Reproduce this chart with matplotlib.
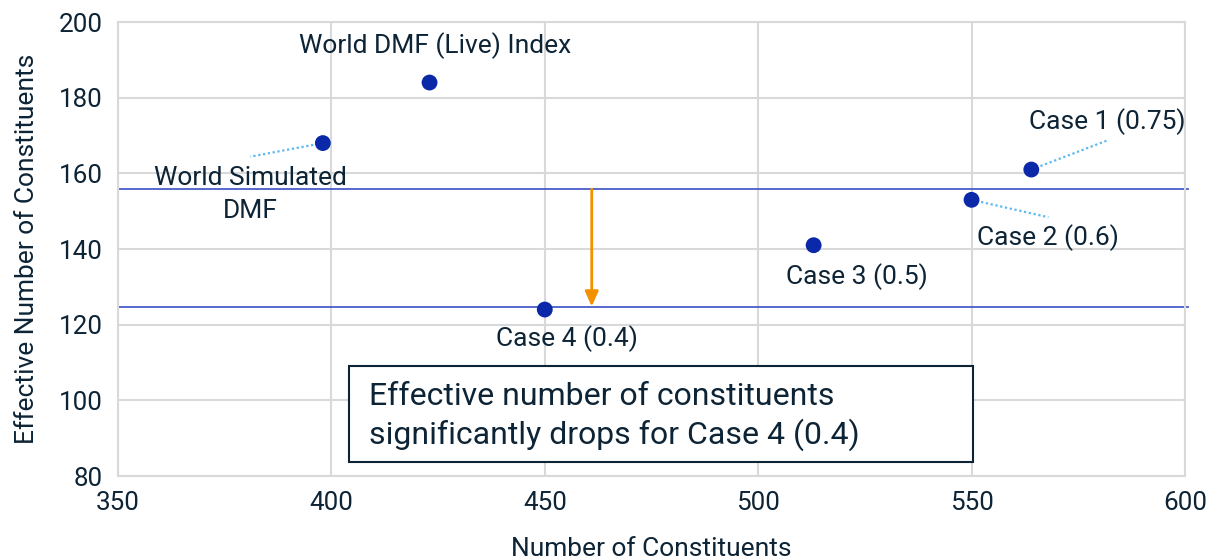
import matplotlib
matplotlib.use("Agg")
import matplotlib.pyplot as plt
from matplotlib.patches import Rectangle

plt.rcParams['font.family'] = ['Roboto', 'DejaVu Sans']

# data
names = ["World Simulated\nDMF", "World DMF (Live) Index", "Case 4 (0.4)",
         "Case 3 (0.5)", "Case 2 (0.6)", "Case 1 (0.75)"]
n_constituents = [398, 423, 450, 513, 550, 564]
eff_constituents = [168, 184, 124, 141, 153, 161]
ref_levels = [155.8, 124.8]   # horizontal reference lines
arrow_x = 461

# label placement (data coords) and leader line ends
label_pos = [(381, 162.0), (424.3, 193.7), (455.2, 116.2),
             (523.2, 132.6), (567.8, 142.9), (581.7, 173.8)]
label_va = ["top", "center", "center", "center", "center", "center"]
leader_end = [(381, 164.4), None, None, None, (568, 148.4), (581.6, 168.6)]

txt = "#0d2436"
grid = "#d9d9d9"

fig = plt.figure(figsize=(12.09, 5.6), dpi=100)
ax = fig.add_axes([0.0976, 0.15, 0.8825, 0.8107])

ax.set_xlim(350, 600)
ax.set_ylim(80, 200)
ax.set_xticks(range(350, 601, 50))
ax.set_yticks(range(80, 201, 20))
ax.grid(True, color=grid, linewidth=1.5)
ax.set_axisbelow(True)
for s in ax.spines.values():
    s.set_color(grid)
    s.set_linewidth(1.5)
ax.tick_params(length=0, labelsize=18.7, colors=txt, pad=11)

for y in ref_levels:
    ax.axhline(y, xmin=0, xmax=1.003, color="#3a4fc4", linewidth=1.2,
               clip_on=False, zorder=2)

ax.annotate("", xy=(arrow_x, ref_levels[1]), xytext=(arrow_x, ref_levels[0]),
            arrowprops=dict(arrowstyle="-|>,head_length=0.9,head_width=0.4",
                            color="#f39200", lw=2, shrinkA=0, shrinkB=0),
            zorder=3)

for i in range(len(names)):
    if leader_end[i] is not None:
        ax.plot([n_constituents[i], leader_end[i][0]],
                [eff_constituents[i], leader_end[i][1]],
                linestyle=(0, (1, 1.2)), color="#5bb8f0", linewidth=1.6, zorder=3)
    ax.text(label_pos[i][0], label_pos[i][1], names[i], ha="center",
            va=label_va[i], fontsize=19, color=txt, linespacing=1.5, zorder=5)

ax.scatter(n_constituents, eff_constituents, s=130, color="#0a28a8", zorder=4,
           edgecolors="none")

ax.add_patch(Rectangle((0.2165, 0.0308), 0.5848, 0.2115, transform=ax.transAxes,
                       facecolor="white", edgecolor=txt, linewidth=1.5, zorder=6))
ax.text(0.2352, 0.131, "Effective number of constituents\nsignificantly drops for Case 4 (0.4)",
        transform=ax.transAxes, ha="left", va="center", fontsize=23,
        color=txt, linespacing=1.3, zorder=7)

ax.set_xlabel("Number of Constituents", fontsize=19, color=txt, labelpad=16)
ax.set_ylabel("Effective Number of Constituents", fontsize=19, color=txt, labelpad=14)

fig.savefig("out.png", dpi=100)
